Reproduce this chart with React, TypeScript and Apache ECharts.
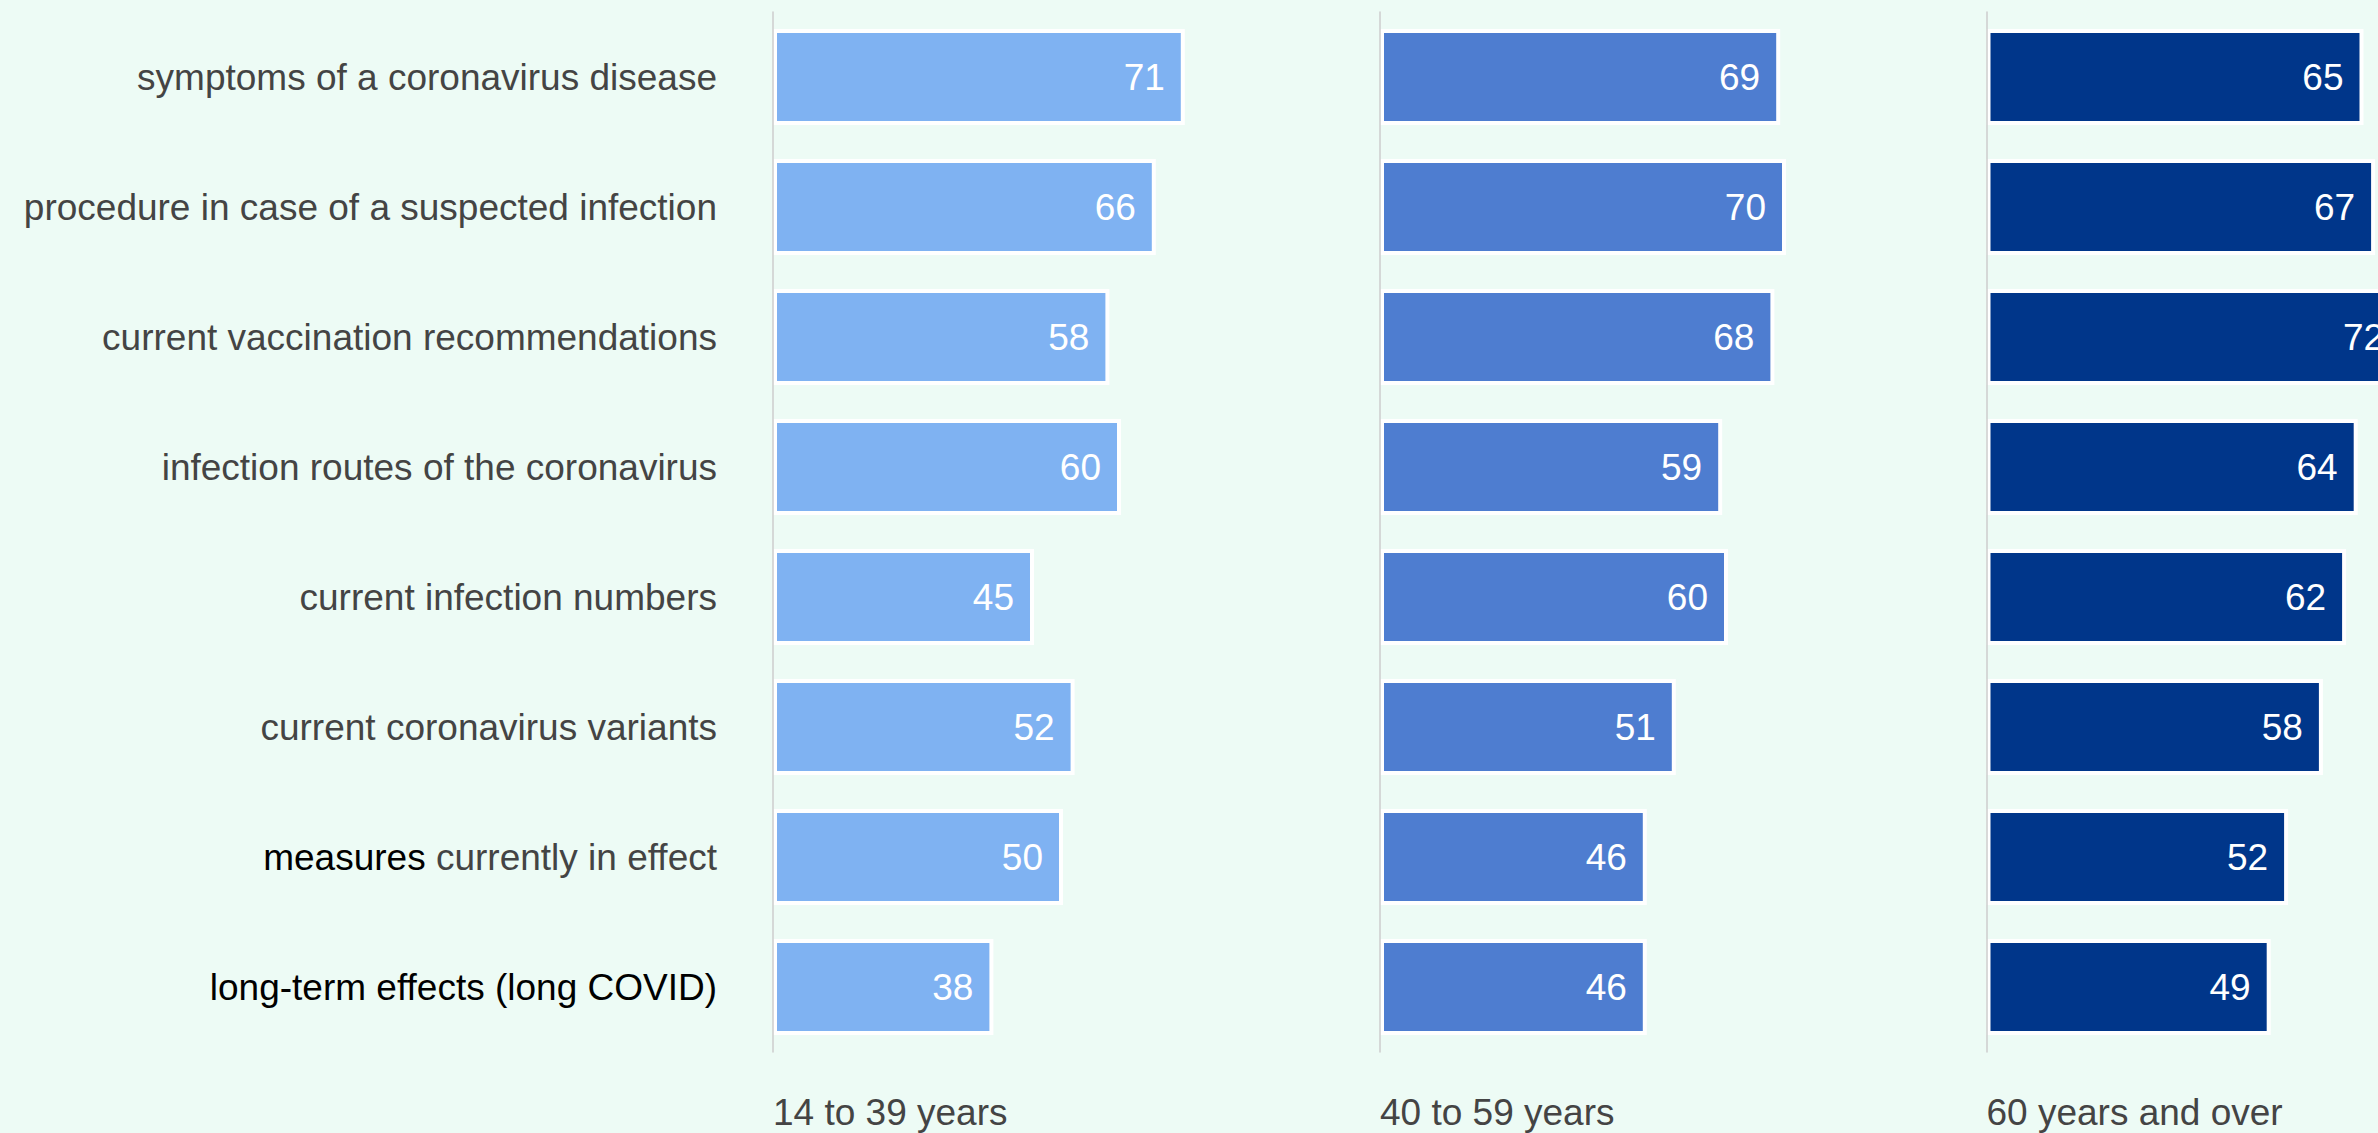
import React, { useEffect, useRef } from "react";
import * as echarts from "echarts";

const categories = [
  "symptoms of a coronavirus disease",
  "procedure in case of a suspected infection",
  "current vaccination recommendations",
  "infection routes of the coronavirus",
  "current infection numbers",
  "current coronavirus variants",
  "measures currently in effect",
  "long-term effects (long COVID)",
];
// part of each label shown in black instead of grey
const blackPrefix = ["", "", "", "", "", "", "measures", "long-term effects (long COVID)"];

const groups = ["14 to 39 years", "40 to 59 years", "60 years and over"];
const values14to39 = [71, 66, 58, 60, 45, 52, 50, 38];
const values40to59 = [69, 70, 68, 59, 60, 51, 46, 46];
const values60plus = [65, 67, 72, 64, 62, 58, 52, 49];
const seriesValues = [values14to39, values40to59, values60plus];
const colors = ["#7FB2F2", "#4E7DD0", "#00368A"];

const FONT = 'Arial, "Liberation Sans", sans-serif';

export default function App() {
  const ref = useRef<HTMLDivElement>(null);
  useEffect(() => {
    if (!ref.current) return;
    const chart = echarts.init(ref.current, undefined, { renderer: "svg" });
    const lefts = [773, 1380, 1986.5];
    const gridWidth = 580;
    const grids = lefts.map((l) => ({ left: l, top: 12, width: gridWidth, height: 1040, containLabel: false }));
    const xAxes = groups.map((g, i) => ({
      type: "value",
      gridIndex: i,
      min: 0,
      max: 100,
      interval: 100,
      axisLine: { show: false },
      axisTick: { show: false },
      splitLine: { show: false },
      axisLabel: {
        show: true,
        margin: 42,
        align: "left",
        fontSize: 37,
        fontFamily: FONT,
        color: "#444444",
        formatter: (v: number) => (v === 0 ? g : ""),
      },
    }));
    const yAxes = groups.map((g, i) => ({
      type: "category",
      gridIndex: i,
      data: categories,
      inverse: true,
      z: 5,
      axisLine: { show: true, lineStyle: { color: "#CCCCCC", width: 1.5 } },
      axisTick: { show: false },
      splitLine: { show: false },
      axisLabel: {
        show: i === 0,
        margin: 56,
        fontSize: 37,
        fontFamily: FONT,
        color: "#444444",
        formatter: (v: string) => {
          const idx = categories.indexOf(v);
          const p = idx >= 0 ? blackPrefix[idx] : "";
          if (p && v.startsWith(p)) {
            const rest = v.slice(p.length);
            return "{b|" + p + "}" + rest;
          }
          return v;
        },
        rich: {
          b: { color: "#000000", fontSize: 37, fontFamily: FONT },
        },
      },
    }));
    const series = groups.map((g, i) => ({
      type: "bar",
      name: g,
      xAxisIndex: i,
      yAxisIndex: i,
      data: seriesValues[i],
      barWidth: 96,
      itemStyle: { color: colors[i], borderColor: "#FFFFFF", borderWidth: 4 },
      label: {
        show: true,
        position: "insideRight",
        distance: 20,
        color: "#FFFFFF",
        fontSize: 37,
        fontFamily: FONT,
      },
    }));
    chart.setOption({
      animation: false,
      backgroundColor: "#EDFBF5",
      textStyle: { fontFamily: FONT },
      grid: grids,
      xAxis: xAxes,
      yAxis: yAxes,
      series,
    });
    return () => chart.dispose();
  }, []);
  return (
    <div
      ref={ref}
      style={{ position: "fixed", left: 0, top: 0, width: 2620, height: 1133 }}
    />
  );
}
